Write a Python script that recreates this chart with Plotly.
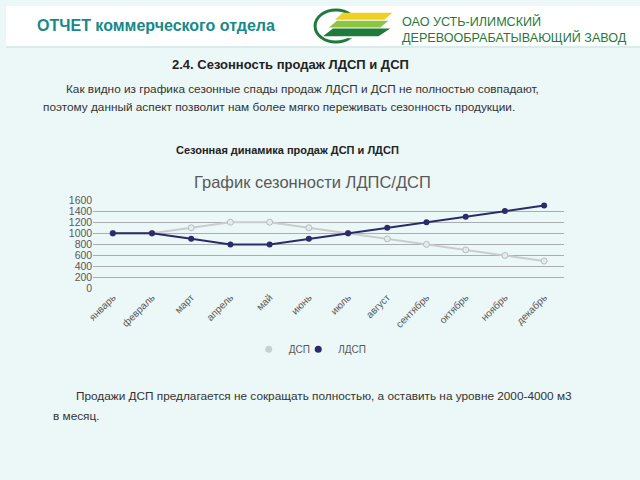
import plotly.graph_objects as go

months = ["январь", "февраль", "март", "апрель", "май", "июнь", "июль",
          "август", "сентябрь", "октябрь", "ноябрь", "декабрь"]
dsp = [1000, 1000, 1100, 1200, 1200, 1100, 1000, 900, 800, 700, 600, 500]
ldsp = [1000, 1000, 900, 800, 800, 900, 1000, 1100, 1200, 1300, 1400, 1500]
y_ticks = [0, 200, 400, 600, 800, 1000, 1200, 1400, 1600]

FONT = "Liberation Sans, Arial, sans-serif"
W, H = 640, 480

def px(x):
    return x / W

def py(y):
    return 1 - y / H

DSP_LINE = "#c9cdcd"
LDSP_COL = "#2b2b6b"

fig = go.Figure()
fig.add_trace(go.Scatter(
    x=months, y=dsp, name="ДСП", mode="lines+markers", showlegend=False,
    line=dict(color=DSP_LINE, width=2),
    marker=dict(symbol="circle", size=6, color="#e6ecec", line=dict(color="#b8bcbc", width=1)),
))
fig.add_trace(go.Scatter(
    x=months, y=ldsp, name="ЛДСП", mode="lines+markers", showlegend=False,
    line=dict(color=LDSP_COL, width=2),
    marker=dict(symbol="circle", size=6, color=LDSP_COL),
))
# legend entries (marker only, as in the reference legend)
fig.add_trace(go.Scatter(x=[None], y=[None], name="ДСП", mode="markers", legend="legend",
                         marker=dict(symbol="circle", size=7, color="#c3d3d3")))
fig.add_trace(go.Scatter(x=[None], y=[None], name="ЛДСП", mode="markers", legend="legend2",
                         marker=dict(symbol="circle", size=7, color=LDSP_COL)))

shapes = [
    dict(type="rect", xref="paper", yref="paper", x0=0, x1=1, y0=py(42), y1=1,
         fillcolor="#ffffff", line=dict(width=0), layer="below"),
    dict(type="line", xref="paper", yref="paper", x0=0, x1=1, y0=py(42), y1=py(42),
         line=dict(color="#d8ecec", width=2), layer="below"),
    # logo: circle arc
    dict(type="circle", xref="paper", yref="paper", x0=px(312), x1=px(354), y0=py(37), y1=py(4),
         line=dict(color="#1f7a3c", width=3), fillcolor="rgba(0,0,0,0)"),
    dict(type="rect", xref="paper", yref="paper", x0=px(336), x1=px(360), y0=py(33), y1=py(8),
         fillcolor="#ffffff", line=dict(width=0)),
    # logo stripes
    dict(type="path", xref="paper", yref="paper",
         path=f"M {px(332)},{py(14)} L {px(382)},{py(14)} L {px(390)},{py(7)} L {px(340)},{py(7)} Z",
         fillcolor="#f0d020", line=dict(width=0)),
    dict(type="path", xref="paper", yref="paper",
         path=f"M {px(326)},{py(22)} L {px(378)},{py(22)} L {px(386)},{py(15)} L {px(334)},{py(15)} Z",
         fillcolor="#8cc63f", line=dict(width=0)),
    dict(type="path", xref="paper", yref="paper",
         path=f"M {px(320)},{py(31)} L {px(376)},{py(31)} L {px(388)},{py(23)} L {px(330)},{py(23)} Z",
         fillcolor="#1f7a3c", line=dict(width=0)),
]

annotations = [
    dict(text="<b>ОТЧЕТ коммерческого отдела</b>", x=px(29), y=py(20), xanchor="left", yanchor="middle",
         font=dict(size=16, color="#17898a", family=FONT)),
    dict(text="ОАО УСТЬ-ИЛИМСКИЙ", x=px(398), y=py(16), xanchor="left", yanchor="middle",
         font=dict(size=12.6, color="#1f7a3c", family=FONT)),
    dict(text="ДЕРЕВООБРАБАТЫВАЮЩИЙ ЗАВОД", x=px(398), y=py(32), xanchor="left", yanchor="middle",
         font=dict(size=12.6, color="#1f7a3c", family=FONT)),
    dict(text="<b>2.4. Сезонность продаж ЛДСП и ДСП</b>", x=px(287), y=py(60), xanchor="center",
         yanchor="middle", font=dict(size=13, color="#222222", family=FONT)),
    dict(text="Как видно из графика сезонные спады продаж ЛДСП и ДСП не полностью совпадают,",
         x=px(59), y=py(85), xanchor="left", yanchor="middle",
         font=dict(size=11.8, color="#333333", family=FONT)),
    dict(text="поэтому данный аспект позволит нам более мягко переживать сезонность продукции.",
         x=px(35), y=py(104), xanchor="left", yanchor="middle",
         font=dict(size=11.8, color="#333333", family=FONT)),
    dict(text="<b>Сезонная динамика продаж ДСП и ЛДСП</b>", x=px(284), y=py(148), xanchor="center",
         yanchor="middle", font=dict(size=11, color="#222222", family=FONT)),
    dict(text="График сезонности ЛДПС/ДСП", x=px(309), y=py(181), xanchor="center",
         yanchor="middle", font=dict(size=16.5, color="#595959", family=FONT)),
    dict(text="Продажи ДСП предлагается не сокращать полностью, а оставить на уровне 2000-4000 м3",
         x=px(69), y=py(400), xanchor="left", yanchor="middle",
         font=dict(size=11.8, color="#333333", family=FONT)),
    dict(text="в месяц.", x=px(45), y=py(420), xanchor="left", yanchor="middle",
         font=dict(size=11.8, color="#333333", family=FONT)),
]
for a in annotations:
    a.update(xref="paper", yref="paper", showarrow=False)

legend_style = dict(orientation="h", y=py(352), xanchor="left", yanchor="middle",
                    font=dict(size=10, color="#595959"), bgcolor="rgba(0,0,0,0)",
                    itemwidth=30, tracegroupgap=0)

fig.update_layout(
    width=W, height=H,
    margin=dict(l=0, r=0, t=0, b=0),
    paper_bgcolor="#ecf7f7",
    plot_bgcolor="rgba(0,0,0,0)",
    font=dict(family=FONT, color="#595959"),
    shapes=shapes,
    annotations=annotations,
    showlegend=True,
    legend=dict(x=px(245), **legend_style),
    legend2=dict(x=px(295), **legend_style),
    xaxis=dict(domain=[px(88), px(563)], type="category", tickangle=-45, range=[-0.5, 11.5],
               showgrid=False, zeroline=False, showline=False, ticks="",
               tickfont=dict(size=10, color="#595959"), fixedrange=True),
    yaxis=dict(domain=[py(290), py(199)], range=[0, 1600], tickvals=y_ticks,
               showgrid=True, gridcolor="#a9adad", gridwidth=1, zeroline=False,
               showline=False, ticks="", tickfont=dict(size=10.5, color="#595959")),
)

fig.write_html("out.html", config={"displayModeBar": False},
               post_script="document.body.style.margin='0';")
